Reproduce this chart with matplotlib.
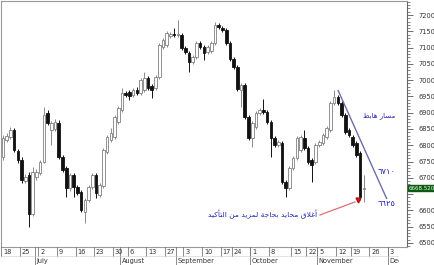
import matplotlib
matplotlib.use("Agg")
import matplotlib.pyplot as plt
import numpy as np

# ---------------- data ----------------
opens = [6764, 6816, 6825, 6847, 6782, 6755, 6690, 6709, 6589, 6703,
         6715, 6749, 6899, 6847, 6850, 6868, 6764, 6730, 6669, 6709,
         6672, 6657, 6595, 6632, 6672, 6709, 6647, 6675, 6779, 6816,
         6825, 6871, 6908, 6961, 6964, 6954, 6970, 6961, 6970, 7007,
         6982, 6976, 7010, 7102, 7108, 7136, 7142, 7139, 7139, 7099,
         7083, 7056, 7071, 7114, 7102, 7086, 7089, 7114, 7169, 7160,
         7154, 7114, 7065, 7040, 6970, 6985, 6887, 6822, 6856, 6899,
         6908, 6902, 6871, 6822, 6801, 6807, 6687, 6669, 6730, 6761,
         6786, 6822, 6792, 6755, 6749, 6801, 6807, 6825, 6847, 6930,
         6948, 6930, 6893, 6847, 6825, 6807, 6776, 6665]
closes = [6822, 6829, 6847, 6786, 6755, 6693, 6703, 6589, 6718, 6718,
          6749, 6893, 6868, 6868, 6871, 6764, 6724, 6669, 6709, 6672,
          6654, 6601, 6632, 6672, 6709, 6654, 6678, 6786, 6825, 6838,
          6887, 6914, 6961, 6954, 6951, 6970, 6961, 7000, 7007, 6976,
          6970, 7010, 7108, 7123, 7145, 7142, 7139, 7142, 7099, 7086,
          7056, 7071, 7114, 7102, 7083, 7102, 7114, 7169, 7163, 7154,
          7114, 7065, 7040, 6973, 6985, 6887, 6822, 6868, 6899, 6908,
          6902, 6871, 6822, 6801, 6810, 6687, 6669, 6730, 6761, 6822,
          6825, 6792, 6749, 6740, 6801, 6810, 6832, 6853, 6930, 6948,
          6930, 6893, 6841, 6832, 6801, 6770, 6641, 6668.52]
highs = [6832, 6838, 6856, 6853, 6790, 6764, 6712, 6718, 6733, 6727,
         6755, 6918, 6908, 6874, 6880, 6877, 6770, 6736, 6715, 6715,
         6678, 6663, 6638, 6678, 6715, 6715, 6684, 6792, 6832, 6853,
         6893, 6920, 6976, 6967, 6970, 6976, 6979, 7006, 7025, 7013,
         6988, 7016, 7114, 7130, 7151, 7148, 7160, 7185, 7145, 7105,
         7089, 7077, 7120, 7120, 7108, 7108, 7120, 7179, 7175, 7166,
         7160, 7120, 7071, 7046, 6991, 6991, 6893, 6874, 6905, 6914,
         6942, 6908, 6877, 6828, 6816, 6813, 6693, 6736, 6767, 6828,
         6831, 6847, 6798, 6761, 6807, 6816, 6838, 6859, 6936, 6970,
         6955, 6936, 6899, 6853, 6831, 6813, 6782, 6709]
lows = [6755, 6810, 6819, 6779, 6746, 6684, 6684, 6549, 6583, 6693,
        6709, 6746, 6862, 6801, 6844, 6758, 6718, 6641, 6660, 6641,
        6648, 6595, 6561, 6626, 6666, 6638, 6641, 6669, 6773, 6810,
        6819, 6865, 6902, 6948, 6939, 6948, 6955, 6955, 6964, 6970,
        6945, 6970, 7004, 7096, 7102, 7130, 7133, 7133, 7093, 7080,
        7025, 7050, 7065, 7096, 7062, 7080, 7083, 7108, 7157, 7148,
        7108, 7059, 7034, 6967, 6918, 6880, 6816, 6795, 6850, 6893,
        6896, 6865, 6764, 6795, 6795, 6681, 6641, 6663, 6724, 6755,
        6780, 6786, 6743, 6687, 6743, 6795, 6801, 6819, 6841, 6924,
        6924, 6887, 6835, 6826, 6795, 6764, 6632, 6626]
last_close_label = "6668.520"

# week tick labels and the candle index that starts each week
week_labels = ["18", "25", "2", "9", "16", "23", "30", "6", "13", "27", "3", "10",
               "17", "24", "1", "8", "15", "22", "5", "12", "19", "26", "3"]
week_start = [0, 5, 10, 15, 20, 25, 30, 34, 39, 44, 49, 54,
              59, 62, 67, 72, 78, 82, 85, 90, 94, 99, 104]
month_labels = ["July", "August", "September", "October", "November", "December"]
month_start = [9, 32, 47, 67, 85, 104]

yticks = list(range(6500, 7201, 50))

# annotations (Arabic text in logical order)
trend_line_idx = [90.1, 103.1]
trend_line_val = [6968, 6637]
txt_trend = "مسار هابط"
txt_note = "أغلاق محايد بحاجة لمزيد من التأكيد"
txt_lvl1 = "٦٧١٠"
txt_lvl2 = "٦٦٢٥"

# ------------- simple Arabic shaping (presentation forms) -------------
AR_FORMS = {
    '\u0627': ('\uFE8D', '\uFE8E', None, None),
    '\u0623': ('\uFE83', '\uFE84', None, None),
    '\u0628': ('\uFE8F', '\uFE90', '\uFE91', '\uFE92'),
    '\u0629': ('\uFE93', '\uFE94', None, None),
    '\u062A': ('\uFE95', '\uFE96', '\uFE97', '\uFE98'),
    '\u062C': ('\uFE9D', '\uFE9E', '\uFE9F', '\uFEA0'),
    '\u062D': ('\uFEA1', '\uFEA2', '\uFEA3', '\uFEA4'),
    '\u062F': ('\uFEA9', '\uFEAA', None, None),
    '\u0631': ('\uFEAD', '\uFEAE', None, None),
    '\u0632': ('\uFEAF', '\uFEB0', None, None),
    '\u0633': ('\uFEB1', '\uFEB2', '\uFEB3', '\uFEB4'),
    '\u0637': ('\uFEC1', '\uFEC2', '\uFEC3', '\uFEC4'),
    '\u063A': ('\uFECD', '\uFECE', '\uFECF', '\uFED0'),
    '\u0642': ('\uFED5', '\uFED6', '\uFED7', '\uFED8'),
    '\u0643': ('\uFED9', '\uFEDA', '\uFEDB', '\uFEDC'),
    '\u0644': ('\uFEDD', '\uFEDE', '\uFEDF', '\uFEE0'),
    '\u0645': ('\uFEE1', '\uFEE2', '\uFEE3', '\uFEE4'),
    '\u0646': ('\uFEE5', '\uFEE6', '\uFEE7', '\uFEE8'),
    '\u0647': ('\uFEE9', '\uFEEA', '\uFEEB', '\uFEEC'),
    '\u064A': ('\uFEF1', '\uFEF2', '\uFEF3', '\uFEF4'),
}
LAM_ALEF = {'\u0627': ('\uFEFB', '\uFEFC'), '\u0623': ('\uFEF7', '\uFEF8')}


def shape(text):
    out = []
    n = len(text)
    i = 0
    prev_joins = False
    while i < n:
        c = text[i]
        if c not in AR_FORMS:
            out.append(c)
            prev_joins = False
            i += 1
            continue
        if c == '\u0644' and i + 1 < n and text[i + 1] in LAM_ALEF:
            iso, fin = LAM_ALEF[text[i + 1]]
            out.append(fin if prev_joins else iso)
            prev_joins = False
            i += 2
            continue
        forms = AR_FORMS[c]
        nxt = text[i + 1] if i + 1 < n else None
        can_next = forms[2] is not None and nxt in AR_FORMS
        if prev_joins and can_next:
            g = forms[3]
        elif prev_joins:
            g = forms[1]
        elif can_next:
            g = forms[2]
        else:
            g = forms[0]
        out.append(g)
        prev_joins = forms[2] is not None
        i += 1
    return ''.join(reversed(out))


# ---------------- figure ----------------
W, H = 435, 265
fig = plt.figure(figsize=(W / 100, H / 100), dpi=100)
fig.patch.set_facecolor("white")
plt.rcParams['font.family'] = ['DejaVu Sans']

ax_l, ax_r, ax_t, ax_b = 1.5, 407, 1, 247
ax = fig.add_axes([ax_l / W, (H - ax_b) / H, (ax_r - ax_l) / W, (ax_b - ax_t) / H])
ax.set_facecolor("white")

x = np.arange(len(opens))
o = np.array(opens, float)
c = np.array(closes, float)
hi = np.array(highs, float)
lo = np.array(lows, float)
up = c >= o

# wicks
ax.vlines(x[up], lo[up], hi[up], color="#8a8a8a", lw=0.7, zorder=2)
ax.vlines(x[~up], lo[~up], hi[~up], color="#111111", lw=0.7, zorder=2)
# bodies
bw = 0.7
body_b = np.minimum(o, c)
body_h = np.maximum(np.abs(c - o), 0.8)
ax.bar(x[up], body_h[up], bottom=body_b[up], width=bw, facecolor="white",
       edgecolor="#808080", linewidth=0.6, zorder=3)
ax.bar(x[~up], body_h[~up], bottom=body_b[~up], width=bw, facecolor="#111111",
       edgecolor="#111111", linewidth=0.6, zorder=3)

ax.set_xlim(-0.4, 108.6)
ax.set_ylim(6487.7, 7243)

# right price axis
ax.yaxis.tick_right()
ax.set_yticks(yticks)
ax.set_yticklabels(["" if v == 6650 else str(v) for v in yticks])
ax.set_yticks(list(range(6490, 7241, 10)), minor=True)
ax.tick_params(axis="y", which="major", length=4, width=0.6, color="#555555",
               labelsize=4.8, labelcolor="#333333", pad=4)
ax.tick_params(axis="y", which="minor", length=2, width=0.5, color="#555555")
ax.set_xticks([])
for s in ax.spines.values():
    s.set_color("#999999")
    s.set_linewidth(0.8)
ax.spines["right"].set_color("#666666")

# last price box
ax.text(1.003, closes[-1], last_close_label, transform=ax.get_yaxis_transform(),
        ha="left", va="center", fontsize=4.0, color="#e8ffe8", clip_on=False,
        bbox=dict(boxstyle="square,pad=0.12", facecolor="#0b5c12", edgecolor="#0b5c12"),
        zorder=10)

# trend line
ax.plot(trend_line_idx, trend_line_val, color="#6e6ea8", lw=1.0, zorder=4)

blue = "#2424b4"
ax.text(101.1, 6890, shape(txt_trend), fontsize=5.0, color=blue, ha="center",
        va="center", zorder=6)
ax.text(103.0, 6718, txt_lvl1, fontsize=6.0, color=blue, ha="center", va="center", zorder=6)
ax.text(103.0, 6620, txt_lvl2, fontsize=6.0, color=blue, ha="center", va="center", zorder=6)
ax.text(84.4, 6589, shape(txt_note), fontsize=5.4, color=blue, ha="right",
        va="center", zorder=6)

# red pointer
ax.plot([85.2, 94.6], [6586, 6626], color="#e07070", lw=0.9, zorder=5)
ax.plot([95.35], [6632], marker="v", markersize=3.5, color="#e02020",
        markeredgecolor="#b01010", zorder=6)

# ---------------- date strip ----------------
strip_r = 399
ax2 = fig.add_axes([ax_l / W, 0, (strip_r - ax_l) / W, (H - ax_b) / H])
ax2.set_xlim(-0.4, -0.4 + (strip_r - ax_l) / (ax_r - ax_l) * 109.0)
ax2.set_ylim(0, 1)
ax2.axis("off")
for ws, lab in zip(week_start, week_labels):
    xs = ws - 0.5
    ax2.plot([xs, xs], [0.5, 1.0], color="#777777", lw=0.6, clip_on=True)
    ax2.text(xs + 0.5, 0.74, lab, fontsize=4.8, color="#333333", ha="left",
             va="center", clip_on=True)
for ms, lab in zip(month_start, month_labels):
    xs = ms - 0.5
    ax2.plot([xs, xs], [0.0, 1.0], color="#777777", lw=0.6, clip_on=True)
    ax2.text(xs + 0.4, 0.24, lab, fontsize=4.8, color="#333333", ha="left",
             va="center", clip_on=True)
ax2.plot([-0.4, 200], [0.5, 0.5], color="#cccccc", lw=0.4)

fig.savefig("out.png", dpi=100, facecolor="white")
